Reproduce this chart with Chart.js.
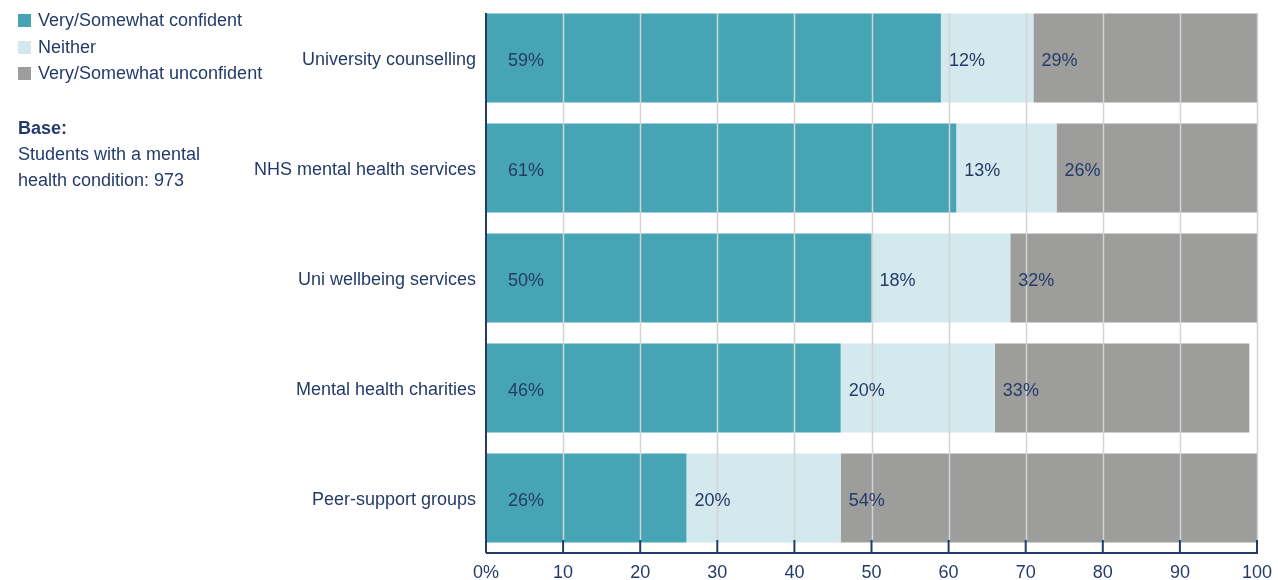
<!DOCTYPE html>
<html>
<head>
<meta charset="utf-8">
<script src="https://cdn.jsdelivr.net/npm/chart.js@4"></script>
<style>
  html, body { margin: 0; padding: 0; background: #fff; }
  #wrap { position: relative; width: 1278px; height: 580px; font-family: "Liberation Sans", Arial, sans-serif; color: #243b6a; }
  #c { position: absolute; left: 0; top: 0; }
  #legend { position: absolute; left: 18px; top: 9px; font-size: 18px; }
  #legend div { height: 26.5px; line-height: 22px; }
  #legend span { display: inline-block; width: 13px; height: 13px; margin-right: 7px; vertical-align: -1px; }
  #base { position: absolute; left: 18px; top: 115px; font-size: 18px; line-height: 26px; }
</style>
</head>
<body>
<div id="wrap">
  <canvas id="c" width="1278" height="580"></canvas>
  <div id="legend"></div>
  <div id="base"><b>Base:</b><br>Students with a mental<br>health condition: 973</div>
</div>
<script>
// 資料
const categories = ['University counselling', 'NHS mental health services', 'Uni wellbeing services', 'Mental health charities', 'Peer-support groups'];
const seriesNames = ['Very/Somewhat confident', 'Neither', 'Very/Somewhat unconfident'];
const confident = [59, 61, 50, 46, 26];
const neither = [12, 13, 18, 20, 20];
const unconfident = [29, 26, 32, 33, 54];
const xTicks = [0, 10, 20, 30, 40, 50, 60, 70, 80, 90, 100];

const colours = ['#47a4b4', '#d3e9ed', '#9d9d9c'];
const navy = '#243b6a';
const fontFamily = '"Liberation Sans", Arial, sans-serif';

// 圖例
const legend = document.getElementById('legend');
seriesNames.forEach(function(name, i) {
    const row = document.createElement('div');
    row.innerHTML = '<span style="background:' + colours[i] + '"></span>' + name;
    legend.appendChild(row);
});

// 格線、座標軸與數值標籤
const overlay = {
    id: 'overlay',
    afterDatasetsDraw(chart) {
        const c = chart.ctx;
        const x = chart.scales.x;
        const area = chart.chartArea;
        const gTop = area.top + 10, gBot = area.bottom - 13;
        c.save();
        c.strokeStyle = '#d4d4d4';
        c.lineWidth = 1.5;
        xTicks.forEach(function(v) {
            if (v === 0) return;
            const px = Math.round(x.getPixelForValue(v)) + 0.5;
            c.beginPath(); c.moveTo(px, gTop); c.lineTo(px, gBot); c.stroke();
        });
        c.strokeStyle = navy;
        c.lineWidth = 2;
        const x0 = x.getPixelForValue(0);
        c.beginPath(); c.moveTo(x0, gTop); c.lineTo(x0, area.bottom); c.stroke();
        c.beginPath(); c.moveTo(x0, area.bottom); c.lineTo(x.getPixelForValue(100) + 1, area.bottom); c.stroke();
        xTicks.forEach(function(v) {
            if (v === 0) return;
            const px = x.getPixelForValue(v);
            c.beginPath(); c.moveTo(px, gBot); c.lineTo(px, area.bottom); c.stroke();
        });
        // 數值標籤
        c.fillStyle = navy;
        c.font = '18px ' + fontFamily;
        c.textBaseline = 'middle';
        c.textAlign = 'left';
        chart.data.datasets.forEach(function(ds, di) {
            chart.getDatasetMeta(di).data.forEach(function(bar, i) {
                const start = Math.min(bar.x, bar.base);
                const off = di === 0 ? 22 : 8;
                c.fillText(ds.data[i] + '%', start + off, bar.y + 3);
            });
        });
        c.restore();
    }
};

const ctx = document.getElementById('c').getContext('2d');
const chart = new Chart(ctx, {
    type: 'bar',
    data: {
        labels: categories,
        datasets: [
            { label: seriesNames[0], data: confident, backgroundColor: colours[0] },
            { label: seriesNames[1], data: neither, backgroundColor: colours[1] },
            { label: seriesNames[2], data: unconfident, backgroundColor: colours[2] }
        ]
    },
    options: {
        indexAxis: 'y',
        responsive: false,
        animation: false,
        layout: { padding: { top: 3, right: 21, left: 0, bottom: 0 } },
        categoryPercentage: 0.81,
        barPercentage: 1,
        scales: {
            x: {
                stacked: true,
                min: 0,
                max: 100,
                grid: { display: false, drawTicks: false },
                border: { display: false },
                afterBuildTicks: function(scale) {
                    scale.ticks = xTicks.map(function(v) { return { value: v }; });
                },
                afterFit: function(scale) {
                    scale.height = 27;
                    scale.paddingLeft = 0;
                    scale.paddingRight = 0;
                },
                ticks: {
                    color: navy,
                    padding: 9,
                    maxRotation: 0,
                    font: { family: fontFamily, size: 18 },
                    callback: function(v) { return v === 0 ? '0%' : v; }
                }
            },
            y: {
                stacked: true,
                grid: { display: false, drawTicks: false },
                border: { display: false },
                afterFit: function(scale) {
                    scale.width = 486;
                    scale.paddingTop = 0;
                    scale.paddingBottom = 0;
                },
                ticks: {
                    color: navy,
                    padding: 10,
                    labelOffset: 2,
                    font: { family: fontFamily, size: 18 }
                }
            }
        },
        plugins: {
            legend: { display: false },
            tooltip: { enabled: false }
        }
    },
    plugins: [overlay]
});
</script>
</body>
</html>
